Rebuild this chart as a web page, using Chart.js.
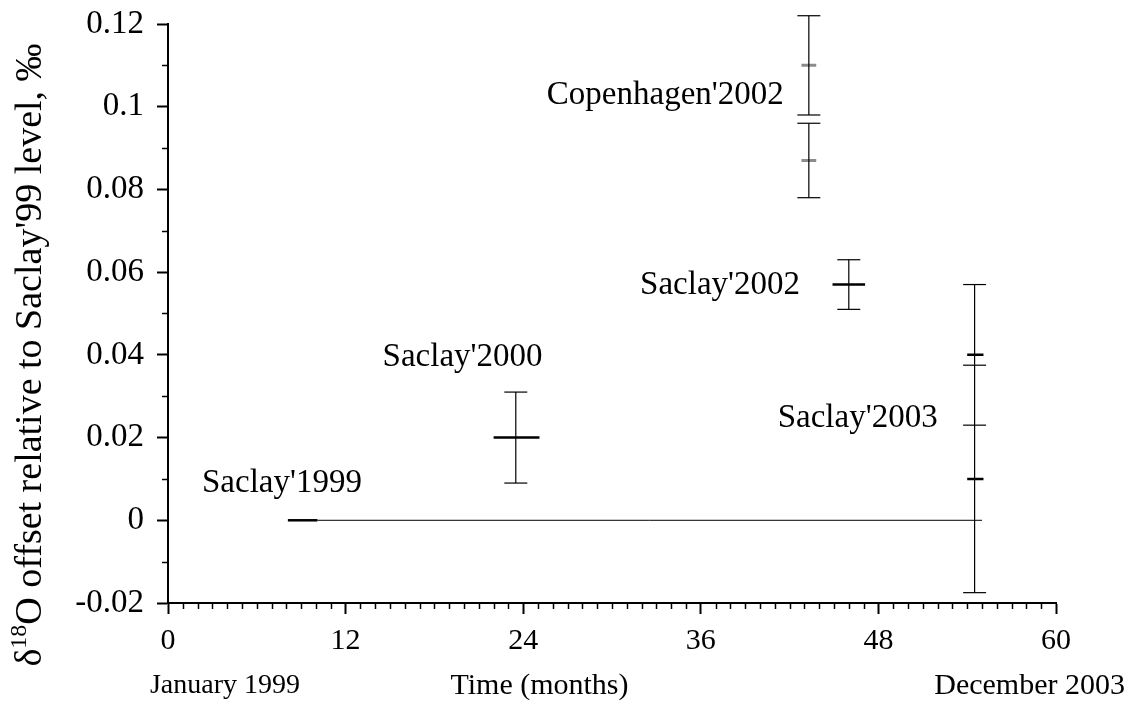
<!DOCTYPE html>
<html>
<head>
<meta charset="utf-8">
<script src="https://cdn.jsdelivr.net/npm/chart.js@4"></script>
<style>
  html, body { margin: 0; padding: 0; background: #fff; }
  #wrap { width: 1137px; height: 704px; }
</style>
</head>
<body>
<div id="wrap"><canvas id="chart" width="1137" height="704"></canvas></div>
<script>
// measurement error bars (months since January 1999, offset in permil)
const errX    = [23.5, 43.3, 43.3, 46.0, 54.5, 54.5];
const errMean = [0.020, 0.110, 0.087, 0.057, 0.040, 0.010];
const errLow  = [0.009, 0.098, 0.078, 0.051, 0.023, -0.0175];
const errHigh = [0.031, 0.122, 0.096, 0.063, 0.057, 0.0375];
// time span covered by each mean mark
const markFrom = [22.0, 42.8, 42.8, 44.9, 54.0, 54.0];
const markTo   = [25.1, 43.8, 43.8, 47.1, 55.1, 55.1];
const markGray = [false, true, true, false, false, false];

// Saclay'1999 reference level
const refFrom = 8.1;
const refTo = 10.1;
const refLineEnd = 55.0;
const refLevel = 0;

const labelTexts = ["Saclay'1999", "Saclay'2000", "Copenhagen'2002", "Saclay'2002", "Saclay'2003"];
const labelX = [7.7, 19.9, 33.6, 37.3, 46.6];
const labelY = [0.0089, 0.0394, 0.1028, 0.0568, 0.0247];

const xTickStep = 12;
const yTickStep = 0.02;

const FONT = "'Liberation Serif', 'Times New Roman', serif";

const stemData = [];
errX.forEach((x, i) => {
  stemData.push({ x: x, y: errLow[i] }, { x: x, y: errHigh[i] }, { x: x, y: null });
});

const markData = (gray) => {
  const out = [];
  errX.forEach((x, i) => {
    if (markGray[i] !== gray) return;
    out.push({ x: markFrom[i], y: errMean[i] }, { x: markTo[i], y: errMean[i] }, { x: markTo[i], y: null });
  });
  return out;
};

// minor ticks, axis notes and the rotated y title
const extras = {
  id: 'extras',
  afterDraw(chart) {
    const { ctx, scales: { x, y }, chartArea } = chart;
    ctx.save();
    ctx.strokeStyle = '#000';
    ctx.lineWidth = 1.5;
    for (let m = 1; m < 60; m++) {
      if (m % xTickStep === 0) continue;
      const px = Math.round(x.getPixelForValue(m)) + 0.5;
      ctx.beginPath();
      ctx.moveTo(px, chartArea.bottom);
      ctx.lineTo(px, chartArea.bottom + 6);
      ctx.stroke();
    }
    for (let v = -0.01; v < 0.12; v += 0.02) {
      const py = Math.round(y.getPixelForValue(v)) + 0.5;
      ctx.beginPath();
      ctx.moveTo(chartArea.left, py);
      ctx.lineTo(chartArea.left - 6, py);
      ctx.stroke();
    }

    ctx.fillStyle = '#000';
    ctx.textBaseline = 'middle';
    ctx.textAlign = 'center';
    ctx.font = '33px ' + FONT;
    labelTexts.forEach((t, i) => {
      ctx.fillText(t, x.getPixelForValue(labelX[i]), y.getPixelForValue(labelY[i]));
    });

    ctx.font = '30px ' + FONT;
    ctx.fillText('Time (months)', x.getPixelForValue(25.1), 686);
    ctx.font = '28px ' + FONT;
    ctx.fillText('January 1999', x.getPixelForValue(0) + 57, 686);
    ctx.font = '30px ' + FONT;
    ctx.textAlign = 'right';
    ctx.fillText('December 2003', 1125, 686);

    // y title with superscript 18
    ctx.translate(31, 355);
    ctx.rotate(-Math.PI / 2);
    const big = '38px ' + FONT;
    const small = '24px ' + FONT;
    const parts = [['\u03b4', big, 0], ['18', small, -11], ["O offset relative to Saclay'99 level, \u2030", big, 0]];
    let total = 0;
    parts.forEach(p => { ctx.font = p[1]; total += ctx.measureText(p[0]).width; });
    let cx = -total / 2;
    ctx.textAlign = 'left';
    parts.forEach(p => {
      ctx.font = p[1];
      ctx.fillText(p[0], cx, p[2]);
      cx += ctx.measureText(p[0]).width;
    });
    ctx.restore();
  }
};

new Chart(document.getElementById('chart'), {
  type: 'scatter',
  data: {
    datasets: [
      {
        data: [{ x: refTo, y: refLevel }, { x: refLineEnd, y: refLevel }],
        showLine: true, borderColor: '#000', borderWidth: 1, pointRadius: 0, clip: false
      },
      {
        data: [{ x: refFrom, y: refLevel }, { x: refTo, y: refLevel }],
        showLine: true, borderColor: '#000', borderWidth: 2.5, pointRadius: 0, clip: false
      },
      {
        data: stemData,
        showLine: true, borderColor: '#000', borderWidth: 1.2,
        pointStyle: 'line', pointRadius: 11.5, pointBorderWidth: 1.2,
        pointBorderColor: '#000', pointBackgroundColor: '#000', clip: false
      },
      {
        data: markData(false),
        showLine: true, borderColor: '#000', borderWidth: 2.5, pointRadius: 0, clip: false
      },
      {
        data: markData(true),
        showLine: true, borderColor: '#8c8c8c', borderWidth: 3, pointRadius: 0, clip: false
      }
    ]
  },
  options: {
    responsive: false,
    animation: false,
    events: [],
    layout: { padding: { left: 0, right: 81, top: 24, bottom: 0 } },
    plugins: { legend: { display: false }, tooltip: { enabled: false } },
    scales: {
      x: {
        type: 'linear', min: 0, max: 60,
        afterFit: (s) => { s.height = 101; s.paddingLeft = 0; s.paddingRight = 0; },
        border: { display: true, color: '#000', width: 2 },
        grid: { drawOnChartArea: false, tickLength: 11, tickWidth: 2, tickColor: '#000' },
        ticks: { stepSize: xTickStep, color: '#000', padding: 9, font: { family: FONT, size: 30 } }
      },
      y: {
        type: 'linear', min: -0.02, max: 0.12,
        afterFit: (s) => { s.width = 168; s.paddingTop = 0; s.paddingBottom = 0; },
        border: { display: true, color: '#000', width: 2 },
        grid: { drawOnChartArea: false, tickLength: 11, tickWidth: 2, tickColor: '#000' },
        ticks: {
          stepSize: yTickStep, color: '#000', padding: 13,
          font: { family: FONT, size: 33 },
          callback: (v) => String(Number(v.toFixed(2)))
        }
      }
    }
  },
  plugins: [extras]
});
</script>
</body>
</html>
